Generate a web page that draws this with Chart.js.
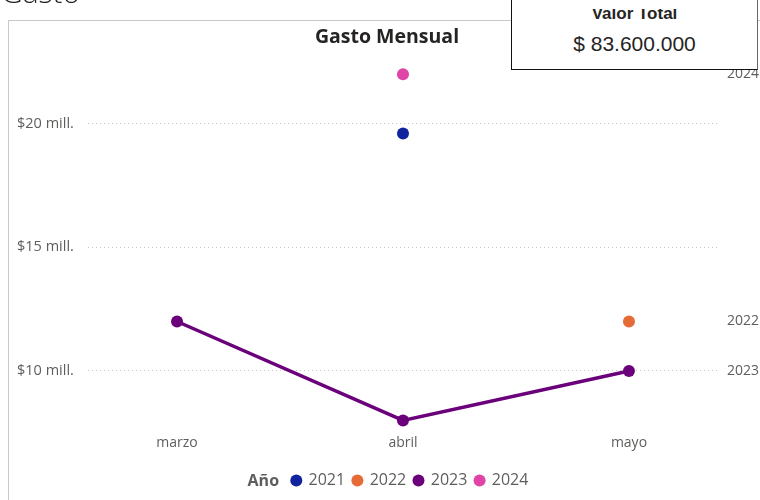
<!DOCTYPE html>
<html><head><meta charset="utf-8">
<script src="https://cdn.jsdelivr.net/npm/chart.js@4.4.0/dist/chart.umd.min.js"></script>
<style>
html,body{margin:0;padding:0;background:#fff;width:760px;height:500px;overflow:hidden;position:relative;font-family:'Open Sans',sans-serif}
#panel{position:absolute;left:8px;top:20px;width:800px;height:600px;border:1px solid #c8c8c8;box-sizing:border-box;background:#fff}
#c{position:absolute;left:0;top:0}
#pageTitle{position:absolute;left:1px;top:-23px;font:300 30px/30px 'Open Sans',sans-serif;color:#252423;white-space:nowrap}
#card{position:absolute;left:511px;top:-6px;width:247px;height:76px;box-sizing:border-box;border:1px solid #111;border-top:none;border-right-color:#666;background:#fff}
#cardClip{position:absolute;left:0;right:0;top:15px;height:12px;overflow:hidden}
#cardLabel{position:absolute;left:0;right:0;top:-4px;text-align:center;font:bold 17px/17px Arial,'Liberation Sans',sans-serif;color:#252423;white-space:nowrap}
#cardValue{position:absolute;left:0;right:0;top:39px;text-align:center;font:21px/21px Arial,'Liberation Sans',sans-serif;color:#252423}
</style></head>
<body>
<div id="panel"></div>
<canvas id="c" width="760" height="500"></canvas>
<div id="pageTitle"></div>
<div id="card"><div id="cardClip"><div id="cardLabel"></div></div><div id="cardValue"></div></div>
<script>
// ---- data (values in millions) ----
const months = ['marzo', 'abril', 'mayo'];
const years = ['2021', '2022', '2023', '2024'];
const gasto2021 = [null, 19.6, null];
const gasto2022 = [null, null, 12.0];
const gasto2023 = [12.0, 8.0, 10.0];
const gasto2024 = [null, 22.0, null];
const yTicks = [10, 15, 20];
const colors = ['#12239E', '#E66C37', '#6B007B', '#E044A7'];
const endLabelYears = ['2022', '2023', '2024'];
const pageTitle = 'Gasto';
const chartTitle = 'Gasto Mensual';
const legendTitle = 'Año';
const cardLabel = 'Valor Total';
const cardValue = '$ 83.600.000';

document.getElementById('pageTitle').textContent = pageTitle;
document.getElementById('cardLabel').textContent = cardLabel;
document.getElementById('cardValue').textContent = cardValue;

const series = [gasto2021, gasto2022, gasto2023, gasto2024];
const toPts = arr => arr.map((v, i) => ({x: i, y: v}));

const datasets = years.map((yr, k) => ({
  label: yr,
  data: toPts(series[k]),
  showLine: yr === '2023',
  borderColor: colors[k],
  backgroundColor: colors[k],
  borderWidth: 3.5,
  pointRadius: 6,
  pointHoverRadius: 6,
  pointBorderWidth: 0,
  pointStyle: 'circle',
  spanGaps: false,
  tension: 0
}));

const GREY = '#605E5C';
const FONT = "'Open Sans', sans-serif";

const extras = {
  id: 'extras',
  afterLayout(chart) {
    const lg = chart.legend, ctx = chart.ctx;
    ctx.save();
    ctx.font = 'bold 16px ' + FONT;
    const w = ctx.measureText(legendTitle).width;
    ctx.restore();
    const dx = (w + 15) / 2;
    lg.left += dx; lg.right += dx;
  },
  afterDraw(chart) {
    const ctx = chart.ctx, lg = chart.legend;
    const hb = lg.legendHitBoxes[0];
    ctx.save();
    ctx.font = 'bold 16px ' + FONT;
    ctx.fillStyle = GREY;
    ctx.textAlign = 'right';
    ctx.textBaseline = 'middle';
    ctx.fillText(legendTitle, hb.left - 13, hb.top + hb.height / 2 + 1);
    // end labels
    const ys = chart.scales.y;
    ctx.font = '14px ' + FONT;
    ctx.textAlign = 'left';
    years.forEach((yr, k) => {
      if (!endLabelYears.includes(yr)) return;
      const arr = series[k];
      let v = null;
      for (let i = arr.length - 1; i >= 0; i--) { if (arr[i] !== null) { v = arr[i]; break; } }
      if (v === null) return;
      ctx.fillText(yr, chart.chartArea.right + 9, ys.getPixelForValue(v));
    });
    ctx.restore();
  }
};

new Chart(document.getElementById('c'), {
  type: 'line',
  data: {datasets},
  plugins: [extras],
  options: {
    responsive: false,
    animation: false,
    devicePixelRatio: 1,
    layout: {padding: {top: 20, left: 17, right: 3, bottom: 1.5}},
    plugins: {
      tooltip: {enabled: false},
      title: {
        display: true, text: chartTitle, color: '#252423',
        font: {family: FONT, size: 19.5, weight: 'bold'},
        padding: {top: 6, bottom: 2}
      },
      legend: {
        position: 'bottom',
        labels: {
          usePointStyle: true, pointStyle: 'circle',
          boxWidth: 8.5, boxHeight: 8.5, padding: 8,
          color: GREY, font: {family: FONT, size: 16},
          generateLabels(chart) {
            return Chart.defaults.plugins.legend.labels.generateLabels(chart)
              .map(l => Object.assign(l, {lineWidth: 0, strokeStyle: l.fillStyle}));
          }
        }
      }
    },
    scales: {
      x: {
        type: 'linear', min: -0.394, max: 2.394,
        afterBuildTicks(s) { s.ticks = months.map((m, i) => ({value: i})); },
        ticks: {
          callback: v => months[v], color: GREY,
          font: {family: FONT, size: 14}, padding: 6, maxRotation: 0
        },
        grid: {display: false, drawTicks: false},
        border: {display: false},
        afterFit(s) { s.height = 35.5; }
      },
      y: {
        type: 'linear', position: 'left', min: 7.652, max: 22.923,
        afterBuildTicks(s) { s.ticks = yTicks.map(v => ({value: v})); },
        ticks: {
          callback: v => '$' + v + ' mill.', color: GREY,
          font: {family: FONT, size: 14.5}, crossAlign: 'far'
        },
        grid: {color: '#C8C6C4', lineWidth: 1, drawTicks: false},
        border: {display: false, dash: [1, 3]},
        afterFit(s) { s.width = 71; }
      },
      y2: {
        type: 'linear', position: 'right', display: true,
        grid: {display: false, drawTicks: false},
        ticks: {display: false},
        border: {display: false},
        afterFit(s) { s.width = 39; }
      }
    }
  }
});
</script>
</body></html>
